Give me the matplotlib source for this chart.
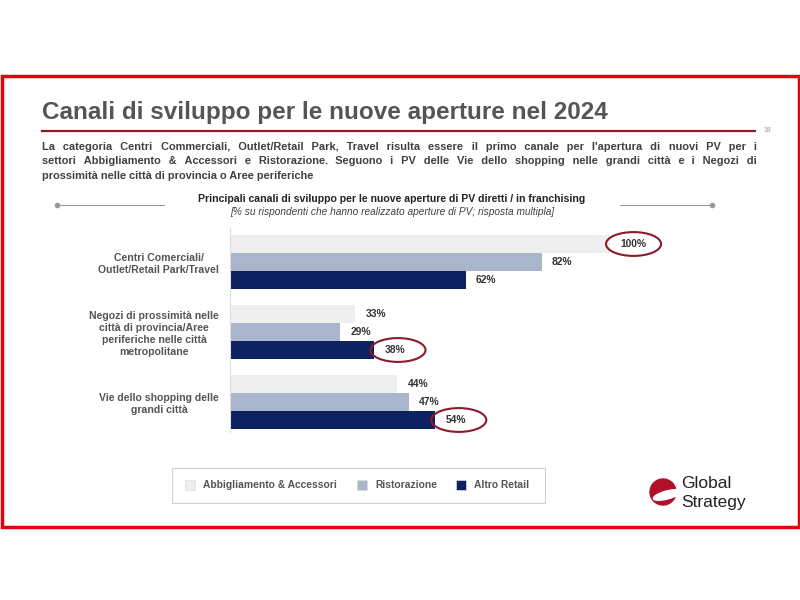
import matplotlib.pyplot as plt
from matplotlib.patches import Rectangle, Ellipse, Circle
import numpy as np

plt.rcParams['font.family'] = ['Liberation Sans', 'DejaVu Sans']

categories = ['Centri Comerciali/\nOutlet/Retail Park/Travel',
              'Negozi di prossimità nelle\ncittà di provincia/Aree\nperiferiche nelle città\nmetropolitane',
              'Vie dello shopping delle\ngrandi città']
series_names = ['Abbigliamento & Accessori', 'Ristorazione', 'Altro Retail']
abbigliamento = [100, 33, 44]
ristorazione = [82, 29, 47]
altro_retail = [62, 38, 54]
highlight = [(0, 0), (1, 2), (2, 2)]  # (category, series) circled in red

colors = ['#efefef', '#a9b5cb', '#0e2160']
title = 'Canali di sviluppo per le nuove aperture nel 2024'
intro = ["La categoria Centri Commerciali,  Outlet/Retail Park, Travel risulta essere il primo canale per l'apertura di nuovi PV per i",
         "settori Abbigliamento  & Accessori e Ristorazione. Seguono i PV delle Vie dello shopping nelle grandi città e i Negozi di",
         "prossimità nelle città di provincia o Aree periferiche"]
chart_title = 'Principali canali di sviluppo per le nuove aperture di PV diretti / in franchising'
chart_sub = '[% su rispondenti che hanno realizzato aperture di PV; risposta multipla]'

fig = plt.figure(figsize=(8, 6), dpi=100)
fig.patch.set_facecolor('white')

# overlay in pixel coords
ov = fig.add_axes([0, 0, 1, 1])
ov.set_xlim(0, 800)
ov.set_ylim(600, 0)
ov.axis('off')

ov.add_patch(Rectangle((1.5, 75.5), 797, 451, fill=False, edgecolor='#e3000f', linewidth=2.5))
ov.text(42, 112, title, fontsize=17.5, fontweight='bold', color='#555555', va='center', ha='left')
ov.plot([42, 755], [131, 131], color='#8b1a2a', linewidth=1.6)
ov.text(763, 131, '18', fontsize=5, color='#999999', va='center')

# justified intro paragraph (gaps filled with hair spaces)
renderer = fig.canvas.get_renderer()
left, right = 42, 757
fs = 7.9
kw = dict(fontsize=fs, fontweight='bold', color='#404040', va='baseline')
probe = ov.text(0, 0, 'x\u200a' * 20 + 'x', **kw)
probe2 = ov.text(0, 0, 'x' * 21, **kw)
hair = (probe.get_window_extent(renderer).width - probe2.get_window_extent(renderer).width) / 20
probe.remove()
probe2.remove()
for i, line in enumerate(intro):
    y = 150 + i * 14.5
    words = line.split()
    if i == len(intro) - 1 or hair <= 0:
        ov.text(left, y, line, **kw)
        continue
    t = ov.text(left, y, ''.join(words), **kw)
    extra = (right - left - t.get_window_extent(renderer).width) / (len(words) - 1)
    s = words[0]
    acc = 0.0
    for w in words[1:]:
        acc += extra / hair
        n = int(round(acc))
        acc -= n
        s += '\u200a' * n + w
    t.set_text(s)

ov.text(392, 199, chart_title, fontsize=7.6, fontweight='bold', color='#222222', ha='center', va='center')
ov.text(392, 212, chart_sub, fontsize=7.3, style='italic', color='#404040', ha='center', va='center')
for x0, x1, xd in [(57, 164, 57), (620, 712, 712)]:
    ov.plot([x0, x1], [205, 205], color='#999999', linewidth=0.8)
    ov.plot([xd], [205], 'o', color='#999999', markersize=3)

# legend box
ov.add_patch(Rectangle((172, 468), 373, 35, fill=False, edgecolor='#d0d0d0', linewidth=0.8))
for xs, name, c in zip([185, 357, 456], series_names, colors):
    ov.add_patch(Rectangle((xs, 480), 10, 10, facecolor=c, edgecolor='#dddddd', linewidth=0.5))
    ov.text(xs + 18, 485.5, name, fontsize=7.4, fontweight='bold', color='#555555', va='center')

# logo
ov.add_patch(Circle((663, 492), 13, color='#b0102a'))
ov.add_patch(Ellipse((667, 495), 28, 8, angle=-15, color='white'))
ov.text(681, 484, 'Global', fontsize=12.5, color='#222222', va='center')
ov.text(681, 502, 'Strategy', fontsize=12.5, color='#222222', va='center')

# bar chart: x=230..650 px, y=228..432 px
ax = fig.add_axes([230 / 800, 1 - 432 / 600, 420 / 800, 204 / 600])
ax.set_facecolor('none')
unit = 70.0
h = 18 / unit
ypos = np.arange(len(categories))
all_series = [abbigliamento, ristorazione, altro_retail]
for s, vals in enumerate(all_series):
    y = ypos + (s - 1) * h
    ax.barh(y, vals, height=h, color=colors[s], edgecolor='none')
    for j, v in enumerate(vals):
        ax.text(v + 2.7, y[j], f'{v}%', fontsize=7.4, fontweight='bold', color='#333333', va='center', ha='left')
for (j, s) in highlight:
    v = all_series[s][j]
    y = ypos[j] + (s - 1) * h
    ax.add_patch(Ellipse((v + 6.2, y), 14.5, 0.34, fill=False, edgecolor='#8b1a2a',
                         linewidth=1.5, clip_on=False))

ax.set_xlim(0, 420 / 3.8)
ax.set_ylim(2 + (432 - 402) / unit, -34 / unit)
ax.set_yticks(ypos)
ax.set_yticklabels(categories, fontsize=7.6, fontweight='bold', color='#555555',
                   multialignment='center', linespacing=1.25)
ax.tick_params(axis='y', length=0, pad=8)
ax.set_xticks([])
for sp in ['top', 'right', 'bottom']:
    ax.spines[sp].set_visible(False)
ax.spines['left'].set_color('#dddddd')

fig.savefig('out.png', dpi=100)
